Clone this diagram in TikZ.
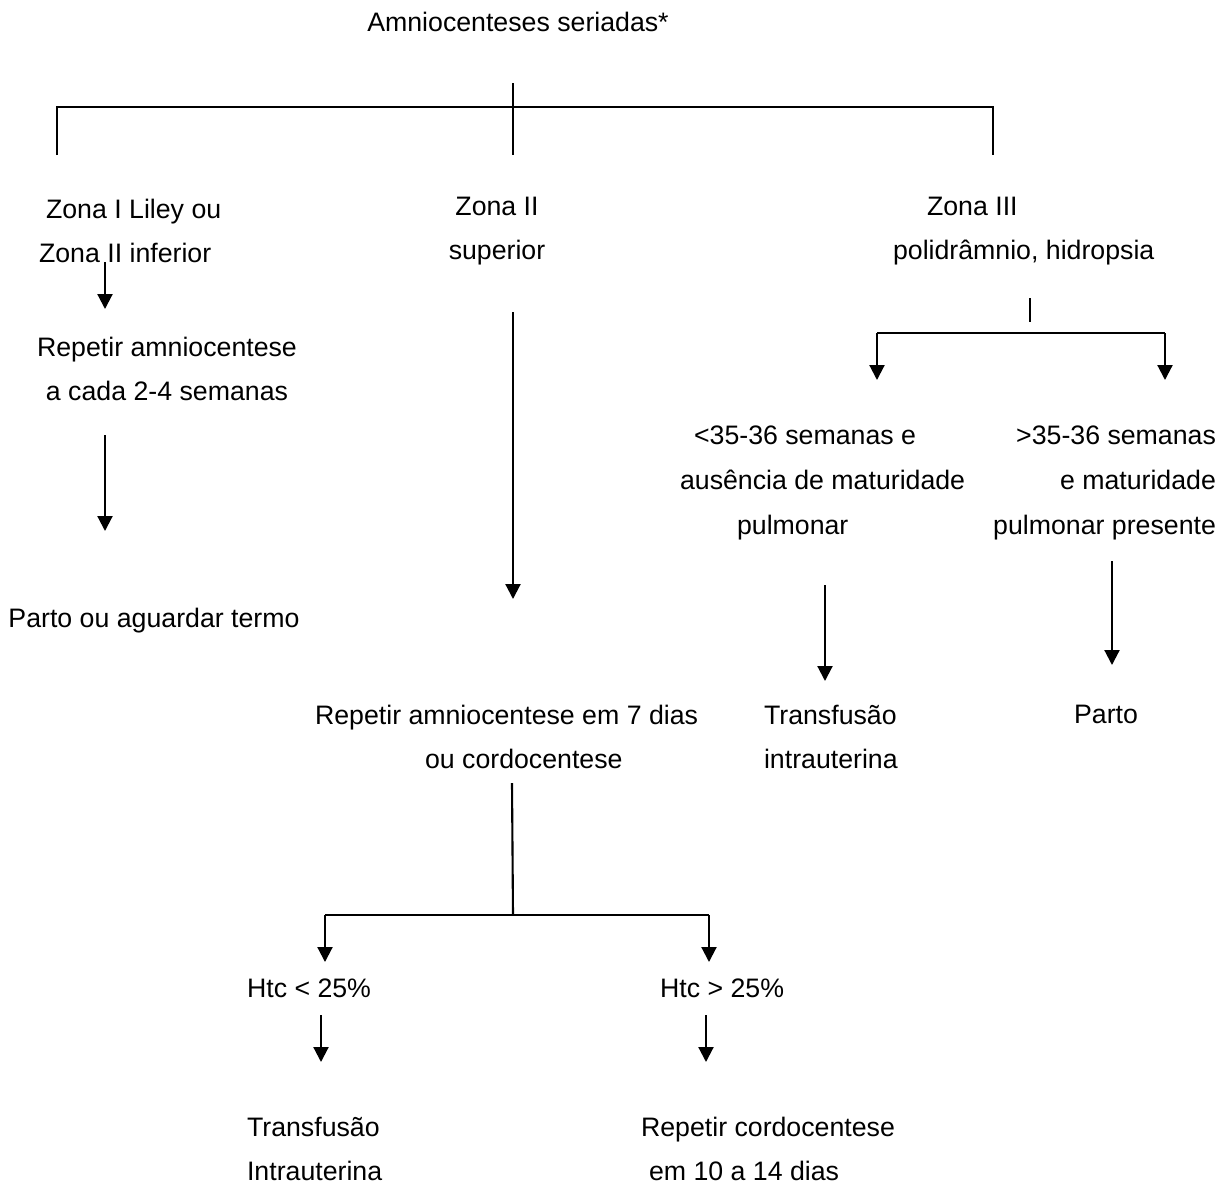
\documentclass[tikz,border=0pt]{standalone}
\usepackage{fontspec}
\setmainfont{Liberation Sans}
\usetikzlibrary{arrows.meta}

\begin{document}
\begin{tikzpicture}[line width=0.6pt, >={Triangle[length=1.5mm,width=1.5mm]},
  txt/.style={inner sep=0pt, font=\fontsize{7.6}{12.7}\selectfont}]
\useasboundingbox (0,0) rectangle (12.32,-11.85);
\node[txt] (title) at (5.18,-0.22) {Amniocenteses seriadas*};
\node[txt, anchor=west, align=left] (zonaI) at (0.38,-2.31) {\hspace*{0.07cm}Zona I Liley ou\\Zona II inferior};
\node[txt, align=center] (zonaII) at (4.97,-2.31) {Zona II\\superior};
\node[txt, anchor=west, align=left] (zonaIII) at (8.92,-2.31) {\hspace*{0.34cm}Zona III\\polidrâmnio, hidropsia};
\node[txt, align=center] (repA) at (1.67,-3.69) {Repetir amniocentese\\a cada 2-4 semanas};
\node[txt] (partoA) at (1.54,-6.21) {Parto ou aguardar termo};
\node[txt, anchor=west, align=left] (repB) at (3.14,-7.37) {Repetir amniocentese em 7 dias\\\hspace*{1.1cm}ou cordocentese};
\node[txt, anchor=west, align=left] (menos) at (6.79,-4.83) {\hspace*{0.14cm}<35-36 semanas e\\ausência de maturidade\\\hspace*{0.57cm}pulmonar};
\node[txt, anchor=east, align=right] (mais) at (12.17,-4.83) {>35-36 semanas\\e maturidade\\pulmonar presente};
\node[txt, anchor=west, align=left] (transA) at (7.63,-7.37) {Transfusão\\intrauterina};
\node[txt] (partoB) at (11.06,-7.14) {Parto};
\node[txt, anchor=west] (htcA) at (2.46,-9.88) {Htc < 25\%};
\node[txt, anchor=west] (htcB) at (6.59,-9.88) {Htc > 25\%};
\node[txt, anchor=west, align=left] (transB) at (2.46,-11.49) {Transfusão\\Intrauterina};
\node[txt, anchor=west, align=left] (repC) at (6.40,-11.49) {Repetir cordocentese\\\hspace*{0.08cm}em 10 a 14 dias};
\coordinate (topA) at (5.13,-0.83);
\coordinate (topB) at (5.13,-1.55);
\coordinate (barL) at (0.57,-1.07);
\coordinate (barR) at (9.93,-1.07);
\coordinate (dropL) at (0.57,-1.55);
\coordinate (dropR) at (9.93,-1.55);
\coordinate (aA) at (1.05,-2.62);
\coordinate (aB) at (1.05,-3.09);
\coordinate (bA) at (1.05,-4.35);
\coordinate (bB) at (1.05,-5.31);
\coordinate (cA) at (5.13,-3.12);
\coordinate (cB) at (5.13,-5.99);
\coordinate (dA) at (5.12,-7.83);
\coordinate (dB) at (5.13,-9.15);
\coordinate (hL) at (3.25,-9.15);
\coordinate (hR) at (7.09,-9.15);
\coordinate (hLd) at (3.25,-9.62);
\coordinate (hRd) at (7.09,-9.62);
\coordinate (eA) at (3.21,-10.15);
\coordinate (eB) at (3.21,-10.62);
\coordinate (fA) at (7.06,-10.15);
\coordinate (fB) at (7.06,-10.62);
\coordinate (gA) at (10.30,-2.98);
\coordinate (gB) at (10.30,-3.22);
\coordinate (kL) at (8.77,-3.33);
\coordinate (kR) at (11.65,-3.33);
\coordinate (kLd) at (8.77,-3.80);
\coordinate (kRd) at (11.65,-3.80);
\coordinate (mA) at (8.25,-5.85);
\coordinate (mB) at (8.25,-6.81);
\coordinate (nA) at (11.12,-5.61);
\coordinate (nB) at (11.12,-6.65);
\draw (topA) -- (topB);
\draw (dropL) -- (barL) -- (barR) -- (dropR);
\draw [->] (aA) -- (aB);
\draw [->] (bA) -- (bB);
\draw [->] (cA) -- (cB);
\draw (dA) -- (dB);
\draw [->] (hL) -- (hLd);
\draw (hL) -- (hR);
\draw [->] (hR) -- (hRd);
\draw [->] (eA) -- (eB);
\draw [->] (fA) -- (fB);
\draw (gA) -- (gB);
\draw [->] (kL) -- (kLd);
\draw (kL) -- (kR);
\draw [->] (kR) -- (kRd);
\draw [->] (mA) -- (mB);
\draw [->] (nA) -- (nB);
\end{tikzpicture}
\end{document}
